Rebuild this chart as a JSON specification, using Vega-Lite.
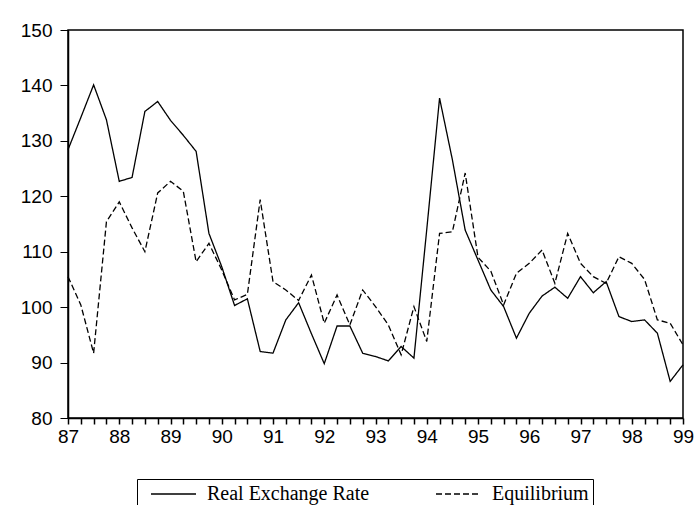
{
  "$schema": "https://vega.github.io/schema/vega-lite/v6.json",
  "width": 615,
  "height": 388,
  "autosize": {"type": "none"},
  "padding": {"left": 68, "top": 30, "right": 13, "bottom": 87},
  "background": "white",
  "config": {
    "view": {"stroke": "black", "strokeWidth": 1.5},
    "axis": {"labelFont": "Liberation Sans", "labelColor": "black", "domainColor": "black", "tickColor": "black", "grid": false, "domainWidth": 1.5}
  },
  "data": {
    "values": [
      {"t": 87.00, "s": "Real Exchange Rate", "v": 128.4},
      {"t": 87.25, "s": "Real Exchange Rate", "v": 134.2},
      {"t": 87.50, "s": "Real Exchange Rate", "v": 140.1},
      {"t": 87.75, "s": "Real Exchange Rate", "v": 133.8},
      {"t": 88.00, "s": "Real Exchange Rate", "v": 122.7},
      {"t": 88.25, "s": "Real Exchange Rate", "v": 123.4},
      {"t": 88.50, "s": "Real Exchange Rate", "v": 135.3},
      {"t": 88.75, "s": "Real Exchange Rate", "v": 137.1},
      {"t": 89.00, "s": "Real Exchange Rate", "v": 133.7},
      {"t": 89.25, "s": "Real Exchange Rate", "v": 131.0},
      {"t": 89.50, "s": "Real Exchange Rate", "v": 128.1},
      {"t": 89.75, "s": "Real Exchange Rate", "v": 113.3},
      {"t": 90.00, "s": "Real Exchange Rate", "v": 107.3},
      {"t": 90.25, "s": "Real Exchange Rate", "v": 100.3},
      {"t": 90.50, "s": "Real Exchange Rate", "v": 101.5},
      {"t": 90.75, "s": "Real Exchange Rate", "v": 92.0},
      {"t": 91.00, "s": "Real Exchange Rate", "v": 91.7},
      {"t": 91.25, "s": "Real Exchange Rate", "v": 97.7},
      {"t": 91.50, "s": "Real Exchange Rate", "v": 100.8},
      {"t": 91.75, "s": "Real Exchange Rate", "v": 95.2},
      {"t": 92.00, "s": "Real Exchange Rate", "v": 89.8},
      {"t": 92.25, "s": "Real Exchange Rate", "v": 96.6},
      {"t": 92.50, "s": "Real Exchange Rate", "v": 96.6},
      {"t": 92.75, "s": "Real Exchange Rate", "v": 91.7},
      {"t": 93.00, "s": "Real Exchange Rate", "v": 91.1},
      {"t": 93.25, "s": "Real Exchange Rate", "v": 90.3},
      {"t": 93.50, "s": "Real Exchange Rate", "v": 92.9},
      {"t": 93.75, "s": "Real Exchange Rate", "v": 90.8},
      {"t": 94.00, "s": "Real Exchange Rate", "v": 114.0},
      {"t": 94.25, "s": "Real Exchange Rate", "v": 137.7},
      {"t": 94.50, "s": "Real Exchange Rate", "v": 126.6},
      {"t": 94.75, "s": "Real Exchange Rate", "v": 113.9},
      {"t": 95.00, "s": "Real Exchange Rate", "v": 108.5},
      {"t": 95.25, "s": "Real Exchange Rate", "v": 103.1},
      {"t": 95.50, "s": "Real Exchange Rate", "v": 100.1},
      {"t": 95.75, "s": "Real Exchange Rate", "v": 94.4},
      {"t": 96.00, "s": "Real Exchange Rate", "v": 98.9},
      {"t": 96.25, "s": "Real Exchange Rate", "v": 102.0},
      {"t": 96.50, "s": "Real Exchange Rate", "v": 103.6},
      {"t": 96.75, "s": "Real Exchange Rate", "v": 101.6},
      {"t": 97.00, "s": "Real Exchange Rate", "v": 105.5},
      {"t": 97.25, "s": "Real Exchange Rate", "v": 102.6},
      {"t": 97.50, "s": "Real Exchange Rate", "v": 104.6},
      {"t": 97.75, "s": "Real Exchange Rate", "v": 98.3},
      {"t": 98.00, "s": "Real Exchange Rate", "v": 97.4},
      {"t": 98.25, "s": "Real Exchange Rate", "v": 97.7},
      {"t": 98.50, "s": "Real Exchange Rate", "v": 95.3},
      {"t": 98.75, "s": "Real Exchange Rate", "v": 86.6},
      {"t": 99.00, "s": "Real Exchange Rate", "v": 89.6},
      {"t": 87.00, "s": "Equilibrium", "v": 105.5},
      {"t": 87.25, "s": "Equilibrium", "v": 100.4},
      {"t": 87.50, "s": "Equilibrium", "v": 91.7},
      {"t": 87.75, "s": "Equilibrium", "v": 115.4},
      {"t": 88.00, "s": "Equilibrium", "v": 119.0},
      {"t": 88.25, "s": "Equilibrium", "v": 114.3},
      {"t": 88.50, "s": "Equilibrium", "v": 110.0},
      {"t": 88.75, "s": "Equilibrium", "v": 120.6},
      {"t": 89.00, "s": "Equilibrium", "v": 122.7},
      {"t": 89.25, "s": "Equilibrium", "v": 120.9},
      {"t": 89.50, "s": "Equilibrium", "v": 108.2},
      {"t": 89.75, "s": "Equilibrium", "v": 111.5},
      {"t": 90.00, "s": "Equilibrium", "v": 106.7},
      {"t": 90.25, "s": "Equilibrium", "v": 101.3},
      {"t": 90.50, "s": "Equilibrium", "v": 102.3},
      {"t": 90.75, "s": "Equilibrium", "v": 119.4},
      {"t": 91.00, "s": "Equilibrium", "v": 104.6},
      {"t": 91.25, "s": "Equilibrium", "v": 103.1},
      {"t": 91.50, "s": "Equilibrium", "v": 101.2},
      {"t": 91.75, "s": "Equilibrium", "v": 105.8},
      {"t": 92.00, "s": "Equilibrium", "v": 97.1},
      {"t": 92.25, "s": "Equilibrium", "v": 102.2},
      {"t": 92.50, "s": "Equilibrium", "v": 96.8},
      {"t": 92.75, "s": "Equilibrium", "v": 103.1},
      {"t": 93.00, "s": "Equilibrium", "v": 100.1},
      {"t": 93.25, "s": "Equilibrium", "v": 96.8},
      {"t": 93.50, "s": "Equilibrium", "v": 91.4},
      {"t": 93.75, "s": "Equilibrium", "v": 100.1},
      {"t": 94.00, "s": "Equilibrium", "v": 93.8},
      {"t": 94.25, "s": "Equilibrium", "v": 113.3},
      {"t": 94.50, "s": "Equilibrium", "v": 113.6},
      {"t": 94.75, "s": "Equilibrium", "v": 124.2},
      {"t": 95.00, "s": "Equilibrium", "v": 109.0},
      {"t": 95.25, "s": "Equilibrium", "v": 106.5},
      {"t": 95.50, "s": "Equilibrium", "v": 100.4},
      {"t": 95.75, "s": "Equilibrium", "v": 106.1},
      {"t": 96.00, "s": "Equilibrium", "v": 107.9},
      {"t": 96.25, "s": "Equilibrium", "v": 110.3},
      {"t": 96.50, "s": "Equilibrium", "v": 104.3},
      {"t": 96.75, "s": "Equilibrium", "v": 113.3},
      {"t": 97.00, "s": "Equilibrium", "v": 107.9},
      {"t": 97.25, "s": "Equilibrium", "v": 105.5},
      {"t": 97.50, "s": "Equilibrium", "v": 104.3},
      {"t": 97.75, "s": "Equilibrium", "v": 109.1},
      {"t": 98.00, "s": "Equilibrium", "v": 107.9},
      {"t": 98.25, "s": "Equilibrium", "v": 105.0},
      {"t": 98.50, "s": "Equilibrium", "v": 97.7},
      {"t": 98.75, "s": "Equilibrium", "v": 97.1},
      {"t": 99.00, "s": "Equilibrium", "v": 93.2}
    ]
  },
  "mark": {"type": "line", "color": "black", "strokeWidth": 1.3},
  "encoding": {
    "x": {
      "field": "t", "type": "quantitative",
      "scale": {"domain": [87, 99], "nice": false, "zero": false},
      "axis": {
        "title": null,
        "values": [87,87.25,87.5,87.75,88,88.25,88.5,88.75,89,89.25,89.5,89.75,90,90.25,90.5,90.75,91,91.25,91.5,91.75,92,92.25,92.5,92.75,93,93.25,93.5,93.75,94,94.25,94.5,94.75,95,95.25,95.5,95.75,96,96.25,96.5,96.75,97,97.25,97.5,97.75,98,98.25,98.5,98.75,99],
        "labelExpr": "datum.value % 1 === 0 ? format(datum.value, 'd') : ''",
        "labelOverlap": false,
        "labelFlush": false,
        "labelFontSize": 19,
        "labelPadding": 3,
        "tickSize": 6,
        "tickWidth": 1.5
      }
    },
    "y": {
      "field": "v", "type": "quantitative",
      "scale": {"domain": [80, 150], "nice": false, "zero": false},
      "axis": {
        "title": null,
        "values": [80, 90, 100, 110, 120, 130, 140, 150],
        "labelFontSize": 19,
        "labelPadding": 8,
        "tickSize": 8,
        "tickWidth": 1,
        "labelFlush": false
      }
    },
    "strokeDash": {
      "field": "s", "type": "nominal",
      "scale": {"domain": ["Real Exchange Rate", "Equilibrium"], "range": [[1, 0], [6, 3]]},
      "legend": {
        "title": null,
        "orient": "none",
        "legendX": 69,
        "legendY": 449,
        "direction": "horizontal",
        "strokeColor": "black",
        "padding": 4,
        "symbolOffset": 21.5,
        "symbolType": "M-2.25,0H2.25",
        "symbolSize": 400,
        "symbolStrokeWidth": 1.3,
        "symbolStrokeColor": "black",
        "symbolFillColor": "transparent",
        "labelFont": "Liberation Serif",
        "labelFontSize": 20,
        "labelColor": "black",
        "labelOffset": 22.5,
        "columnPadding": 56,
        "labelLimit": 400
      }
    }
  }
}
